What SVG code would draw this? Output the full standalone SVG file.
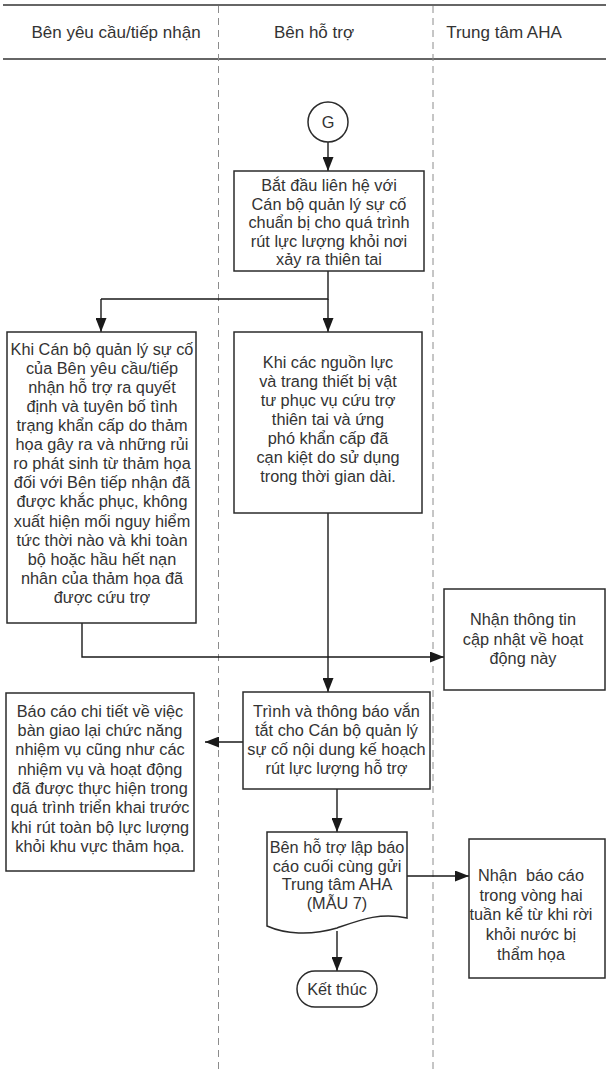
<svg xmlns="http://www.w3.org/2000/svg" width="606" height="1073" viewBox="0 0 606 1073">
  <defs>
    <marker id="arrow" viewBox="0 0 14 11" refX="14" refY="5.5" markerWidth="14" markerHeight="11" markerUnits="userSpaceOnUse" orient="auto">
      <path d="M0,0 L14,5.5 L0,11 Z" fill="#1a1a1a"/>
    </marker>
    <style>
      .lane-title { font-family: "Liberation Sans", Arial, sans-serif; font-size: 17px; fill: #333333; text-anchor: middle; }
      .label { font-family: "Liberation Sans", Arial, sans-serif; font-size: 16.3px; fill: #333333; text-anchor: middle; }
      .box { fill: #ffffff; stroke: #2b2b2b; stroke-width: 1.5; }
      .rule { stroke: #333333; stroke-width: 1.6; }
      .lane { stroke: #8c8c8c; stroke-width: 1; stroke-dasharray: 7 5; fill: none; }
      .edge { stroke: #1a1a1a; stroke-width: 1.4; fill: none; }
      .edge-arrow { stroke: #1a1a1a; stroke-width: 1.4; fill: none; marker-end: url(#arrow); }
    </style>
  </defs>

  <rect width="606" height="1073" fill="#ffffff"/>

  <!-- swimlane header -->
  <g id="lanes">
    <line class="rule" x1="3" y1="5" x2="606" y2="5"/>
    <line class="rule" x1="3" y1="59" x2="606" y2="59"/>
    <line class="lane" x1="218.5" y1="6" x2="218.5" y2="1070"/>
    <line class="lane" x1="433" y1="6" x2="433" y2="1070"/>
    <text class="lane-title" x="116" y="38">Bên yêu cầu/tiếp nhận</text>
    <text class="lane-title" x="314" y="38">Bên hỗ trợ</text>
    <text class="lane-title" x="504" y="38">Trung tâm AHA</text>
  </g>

  <!-- connectors -->
  <g id="connectors">
    <path class="edge-arrow" d="M328,142 V171"/>
    <path class="edge" d="M328,271 V299 H101"/>
    <path class="edge-arrow" d="M101,299 V332"/>
    <path class="edge-arrow" d="M328,299 V332"/>
    <path class="edge-arrow" d="M82,623 V657 H444"/>
    <path class="edge-arrow" d="M328,513 V692"/>
    <path class="edge-arrow" d="M243,742 H205"/>
    <path class="edge-arrow" d="M337,789 V832"/>
    <path class="edge-arrow" d="M407,876 H469"/>
    <path class="edge-arrow" d="M337,931 V971"/>
  </g>

  <g id="start-g">
    <circle class="box" cx="328" cy="122" r="20"/>
    <text class="label" x="328" y="128">G</text>
  </g>

  <g id="begin-contact">
    <rect class="box" x="234" y="171" width="190" height="100"/>
    <text class="label" x="329" y="191">Bắt đầu liên hệ với</text>
    <text class="label" x="329" y="209.5">Cán bộ quản lý sự cố</text>
    <text class="label" x="329" y="228">chuẩn bị cho quá trình</text>
    <text class="label" x="329" y="246.5">rút lực lượng khỏi nơi</text>
    <text class="label" x="329" y="265">xảy ra thiên tai</text>
  </g>

  <g id="condition-declared">
    <rect class="box" x="7" y="332" width="189" height="291"/>
    <text class="label" x="102" y="355">Khi Cán bộ quản lý sự cố</text>
    <text class="label" x="102" y="374">của Bên yêu cầu/tiếp</text>
    <text class="label" x="102" y="393">nhận hỗ trợ ra quyết</text>
    <text class="label" x="102" y="412">định và tuyên bố tình</text>
    <text class="label" x="102" y="431">trạng khẩn cấp do thảm</text>
    <text class="label" x="102" y="450">họa gây ra và những rủi</text>
    <text class="label" x="102" y="469">ro phát sinh từ thảm họa</text>
    <text class="label" x="102" y="488">đối với Bên tiếp nhận đã</text>
    <text class="label" x="102" y="507">được khắc phục, không</text>
    <text class="label" x="102" y="527">xuất hiện mối nguy hiểm</text>
    <text class="label" x="102" y="546">tức thời nào và khi toàn</text>
    <text class="label" x="102" y="565">bộ hoặc hầu hết nạn</text>
    <text class="label" x="102" y="584">nhân của thảm họa đã</text>
    <text class="label" x="102" y="603">được cứu trợ</text>
  </g>

  <g id="condition-exhausted">
    <rect class="box" x="234" y="332" width="188" height="181"/>
    <text class="label" x="328" y="368">Khi các nguồn lực</text>
    <text class="label" x="328" y="387">và trang thiết bị vật</text>
    <text class="label" x="328" y="406">tư phục vụ cứu trợ</text>
    <text class="label" x="328" y="425">thiên tai và ứng</text>
    <text class="label" x="328" y="444">phó khẩn cấp đã</text>
    <text class="label" x="328" y="463">cạn kiệt do sử dụng</text>
    <text class="label" x="328" y="482">trong thời gian dài.</text>
  </g>

  <g id="receive-update">
    <rect class="box" x="444" y="589" width="161" height="101"/>
    <text class="label" x="523" y="625">Nhận thông tin</text>
    <text class="label" x="523" y="645">cập nhật về hoạt</text>
    <text class="label" x="523" y="664">động này</text>
  </g>

  <g id="notify-plan">
    <rect class="box" x="243" y="692" width="187" height="97"/>
    <text class="label" x="336.5" y="717">Trình và thông báo vắn</text>
    <text class="label" x="336.5" y="736">tắt cho Cán bộ quản lý</text>
    <text class="label" x="336.5" y="755">sự cố nội dung kế hoạch</text>
    <text class="label" x="336.5" y="774">rút lực lượng hỗ trợ</text>
  </g>

  <g id="handover-report">
    <rect class="box" x="6" y="693" width="188" height="178"/>
    <text class="label" x="100" y="717">Báo cáo chi tiết về việc</text>
    <text class="label" x="100" y="736">bàn giao lại chức năng</text>
    <text class="label" x="100" y="755">nhiệm vụ cũng như các</text>
    <text class="label" x="100" y="775">nhiệm vụ và hoạt động</text>
    <text class="label" x="100" y="794">đã được thực hiện trong</text>
    <text class="label" x="100" y="813">quá trình triển khai trước</text>
    <text class="label" x="100" y="833">khi rút toàn bộ lực lượng</text>
    <text class="label" x="100" y="852">khỏi khu vực thảm họa.</text>
  </g>

  <g id="final-report">
    <path class="box" d="M267,832 H407 V918 C380,912 360,920 337,928 C310,936 285,934 267,926 Z"/>
    <text class="label" x="337" y="853">Bên hỗ trợ lập báo</text>
    <text class="label" x="337" y="871.5">cáo cuối cùng gửi</text>
    <text class="label" x="337" y="890">Trung tâm AHA</text>
    <text class="label" x="337" y="908.5">(MẪU 7)</text>
  </g>

  <g id="receive-report">
    <rect class="box" x="469" y="839" width="136" height="139"/>
    <text class="label" x="531" y="881" xml:space="preserve">Nhận  báo cáo</text>
    <text class="label" x="531" y="901">trong vòng hai</text>
    <text class="label" x="531" y="920">tuần kể từ khi rời</text>
    <text class="label" x="531" y="940">khỏi nước bị</text>
    <text class="label" x="531" y="960">thẩm họa</text>
  </g>

  <g id="end">
    <rect class="box" x="297" y="971" width="80" height="36" rx="18" ry="18"/>
    <text class="label" x="337" y="995">Kết thúc</text>
  </g>
</svg>
